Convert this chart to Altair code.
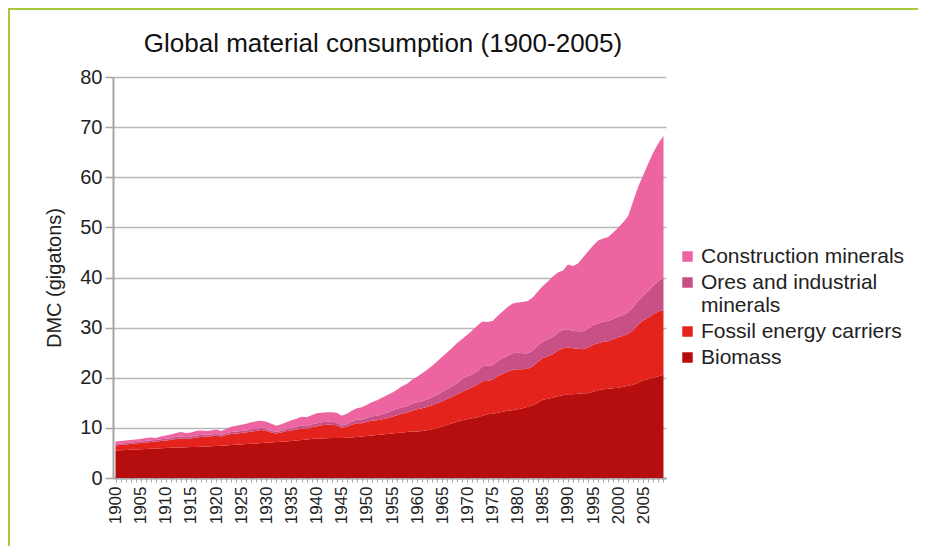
import altair as alt
import pandas as pd

years = list(range(1900, 2010))

series_names = ["Construction minerals", "Ores and industrial minerals",
                "Fossil energy carriers", "Biomass"]
series_colors = ["#EC64A0", "#C85087", "#E4231C", "#B60E0E"]

chart_title = "Global material consumption (1900-2005)"

# Upper edge (cumulative, gigatons) of each layer, 1900-2009
biomass_upper = [
    5.5, 5.55, 5.6, 5.65, 5.7, 5.75, 5.8, 5.85, 5.9, 5.95,
    6.0, 6.05, 6.1, 6.1, 6.15, 6.2, 6.2, 6.25, 6.3, 6.35,
    6.4, 6.45, 6.5, 6.6, 6.65, 6.7, 6.8, 6.85, 6.9, 7.0,
    7.05, 7.1, 7.2, 7.25, 7.3, 7.4, 7.5, 7.6, 7.7, 7.8,
    7.9, 7.9, 7.95, 8.0, 8.0, 8.0, 8.05, 8.1, 8.2, 8.3,
    8.4, 8.5, 8.6, 8.7, 8.8, 8.9, 9.0, 9.1, 9.2, 9.3,
    9.3, 9.4, 9.55, 9.75, 10.0, 10.3, 10.6, 10.9, 11.2, 11.5,
    11.7, 11.9, 12.1, 12.4, 12.7, 12.8, 13.0, 13.2, 13.4, 13.5,
    13.7, 13.9, 14.2, 14.5, 15.0, 15.6, 15.8, 16.0, 16.3, 16.5,
    16.7, 16.7, 16.8, 16.9, 16.9, 17.2, 17.5, 17.7, 17.8, 17.9,
    18.0, 18.2, 18.4, 18.6, 19.0, 19.5, 19.7, 20.0, 20.3, 20.6,
]
fossil_upper = [
    6.5, 6.6, 6.7, 6.8, 6.9, 7.0, 7.1, 7.2, 7.3, 7.4,
    7.5, 7.6, 7.8, 7.9, 7.8, 7.9, 8.1, 8.2, 8.3, 8.3,
    8.5, 8.3, 8.6, 8.8, 8.9, 9.0, 9.1, 9.3, 9.4, 9.6,
    9.4, 9.1, 8.9, 9.1, 9.4, 9.5, 9.7, 9.9, 9.8, 10.1,
    10.3, 10.5, 10.6, 10.6, 10.5, 10.0, 10.2, 10.6, 10.9, 10.9,
    11.2, 11.4, 11.5, 11.7, 11.9, 12.2, 12.5, 12.8, 13.0, 13.4,
    13.7, 13.9, 14.2, 14.5, 14.9, 15.3, 15.8, 16.2, 16.7, 17.2,
    17.7, 18.1, 18.6, 19.3, 19.4, 19.6, 20.3, 20.8, 21.2, 21.6,
    21.7, 21.7, 21.8, 22.3, 23.2, 23.9, 24.3, 24.7, 25.4, 25.9,
    26.1, 25.9, 25.8, 25.7, 26.0, 26.6, 26.9, 27.2, 27.3, 27.7,
    28.1, 28.4, 28.8, 29.6, 30.6, 31.4, 32.0, 32.7, 33.2, 33.5,
]
ores_upper = [
    6.8, 6.9, 7.0, 7.1, 7.2, 7.3, 7.45, 7.55, 7.6, 7.75,
    7.85, 7.95, 8.2, 8.3, 8.15, 8.25, 8.5, 8.6, 8.7, 8.65,
    8.85, 8.6, 8.95, 9.2, 9.3, 9.4, 9.5, 9.75, 9.85, 10.05,
    9.8, 9.45, 9.2, 9.45, 9.8, 9.95, 10.2, 10.45, 10.3, 10.65,
    10.9, 11.1, 11.2, 11.2, 11.05, 10.45, 10.7, 11.2, 11.6, 11.6,
    12.0, 12.3, 12.4, 12.7, 13.0, 13.4, 13.8, 14.1, 14.3, 14.8,
    15.1, 15.3, 15.7, 16.1, 16.6, 17.2, 17.8, 18.3, 19.0, 19.7,
    20.3, 20.7, 21.3, 22.3, 22.4, 22.5, 23.3, 23.9, 24.4, 24.9,
    25.0, 24.9, 24.9, 25.4, 26.5, 27.2, 27.7, 28.2, 29.0, 29.6,
    29.7, 29.4, 29.3, 29.3, 29.8, 30.5, 30.8, 31.2, 31.3, 31.7,
    32.2, 32.5, 33.1, 34.1, 35.4, 36.4, 37.3, 38.4, 39.3, 39.9,
]
construction_upper = [
    7.3, 7.4, 7.5, 7.6, 7.7, 7.8, 8.0, 8.1, 8.0, 8.3,
    8.5, 8.7, 9.0, 9.2, 9.0, 9.1, 9.4, 9.5, 9.4, 9.5,
    9.7, 9.4, 9.8, 10.2, 10.4, 10.6, 10.8, 11.1, 11.3, 11.4,
    11.2, 10.8, 10.4, 10.7, 11.1, 11.5, 11.8, 12.2, 12.1, 12.5,
    12.9, 13.0, 13.1, 13.1, 13.0, 12.4, 12.8, 13.4, 13.9, 14.1,
    14.6, 15.1, 15.5, 16.0, 16.5, 17.0, 17.6, 18.3, 18.8, 19.6,
    20.2, 20.9, 21.6, 22.4, 23.3, 24.2, 25.1, 26.0, 27.0, 27.8,
    28.6, 29.5, 30.4, 31.2, 31.1, 31.3, 32.3, 33.2, 34.1, 34.8,
    35.0, 35.1, 35.3, 36.0, 37.2, 38.3, 39.2, 40.2, 41.0, 41.4,
    42.6, 42.3, 42.8, 44.0, 45.2, 46.4, 47.4, 47.8, 48.1, 49.0,
    50.0, 51.0, 52.3, 55.3, 58.2, 60.5, 62.8, 65.0, 66.8, 68.3,
]

layers = [
    ("Biomass", None, biomass_upper),
    ("Fossil energy carriers", biomass_upper, fossil_upper),
    ("Ores and industrial minerals", fossil_upper, ores_upper),
    ("Construction minerals", ores_upper, construction_upper),
]
rows = []
for name, lower, upper in layers:
    for i, yr in enumerate(years):
        rows.append({"year": yr, "series": name,
                     "lower": 0.0 if lower is None else lower[i],
                     "upper": upper[i]})
df = pd.DataFrame(rows)

FONT = "Liberation Sans"
AXIS_GRAY = "#a6a6a6"
TEXT = "#222222"

area = alt.Chart(df).mark_area(interpolate="linear").encode(
    x=alt.X("year:Q",
            scale=alt.Scale(domain=[1899.5, 2009.5], nice=False, zero=False),
            axis=alt.Axis(title=None, values=years, format="d",
                          labelExpr="datum.value % 5 == 0 ? datum.label : ''",
                          labelAngle=-90, labelOverlap=False, labelFlush=False,
                          labelFontSize=17, labelColor=TEXT, labelPadding=4,
                          tickSize=4, tickColor=AXIS_GRAY, tickWidth=1,
                          domainColor=AXIS_GRAY, domainWidth=2, grid=False)),
    y=alt.Y("upper:Q",
            scale=alt.Scale(domain=[0, 80], nice=False),
            axis=alt.Axis(title="DMC (gigatons)", values=list(range(0, 81, 10)),
                          labelFontSize=20, labelColor=TEXT, labelPadding=3,
                          tickSize=8, tickColor=AXIS_GRAY, tickWidth=1.5,
                          domainColor=AXIS_GRAY, domainWidth=2,
                          grid=True, gridColor="#b8b8b8", gridWidth=1.5,
                          titleFontSize=20, titleFontWeight="normal",
                          titleColor=TEXT, titlePadding=15)),
    y2="lower:Q",
    color=alt.Color("series:N",
                    scale=alt.Scale(domain=series_names, range=series_colors),
                    legend=alt.Legend(title=None, orient="none",
                                      legendX=564, legendY=169,
                                      symbolType="square", symbolSize=110,
                                      symbolStrokeWidth=0,
                                      labelFontSize=21, labelColor=TEXT,
                                      labelOffset=3, rowPadding=4,
                                      labelLimit=300,
                                      labelExpr="datum.label == 'Ores and industrial minerals' ? ['Ores and industrial', 'minerals'] : datum.label")),
)

title_mark = alt.Chart(pd.DataFrame({"t": [chart_title]})).mark_text(
    font=FONT, fontSize=26, color="#111111", align="center", baseline="alphabetic"
).encode(text="t:N", x=alt.value(270), y=alt.value(-25))

frame_top = alt.Chart(df).mark_rule(color="#A8C83C", strokeWidth=1.5).encode(
    x=alt.value(-105), x2=alt.value(820), y=alt.value(-68.5))
frame_left = alt.Chart(df).mark_rule(color="#A8C83C", strokeWidth=1.5).encode(
    x=alt.value(-104.5), y=alt.value(-69), y2=alt.value(480))

chart = alt.layer(area, title_mark, frame_top, frame_left).properties(
    width=553, height=401,
    autosize=alt.AutoSizeParams(type="none"),
    padding={"left": 105, "top": 69, "right": 252, "bottom": 68},
).configure(font=FONT).configure_view(stroke=None)

chart.save("out.html", embed_options={"renderer": "svg", "actions": False})
